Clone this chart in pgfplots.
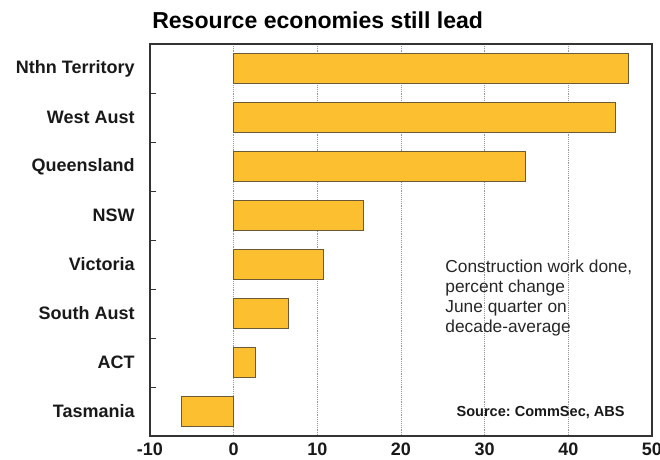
\documentclass[border=0pt]{standalone}
\usepackage{pgfplots}
\pgfplotsset{compat=1.18}
\usepackage{fontspec}
\setmainfont{Liberation Sans}
\frenchspacing
\definecolor{barfill}{HTML}{FBBF2F}
\definecolor{baredge}{HTML}{6B5A35}
\begin{document}
\frenchspacing
\begin{tikzpicture}[x=0.75pt,y=0.75pt]
\path[use as bounding box] (-150,-24) rectangle (510,436);
\begin{axis}[
  at={(0,0)}, anchor=south west,
  scale only axis,
  width=376.5pt, height=294pt,
  xbar, bar width=22pt,
  xmin=-10, xmax=50,
  ymin=-0.5, ymax=7.5, y dir=reverse,
  xtick={-10,0,10,20,30,40,50},
  xticklabels={-10,0,10,20,30,40,50},
  major x tick style={draw=none},
  xmajorgrids, grid style={densely dotted, black!40, line width=0.6pt},
  ytick={0,1,2,3,4,5,6,7},
  yticklabels={Nthn Territory,West Aust,Queensland,NSW,Victoria,South Aust,ACT,Tasmania},
  major y tick style={draw=none},
  minor ytick={0.5,1.5,2.5,3.5,4.5,5.5,6.5},
  minor tick length=4.5pt,
  minor y tick style={black!80, line width=0.6pt},
  ytick pos=left, tick align=inside,
  axis line style={black!80, line width=0.8pt},
  tick label style={font=\fontsize{13.5}{15}\selectfont\bfseries, text=black!90},
  yticklabel style={xshift=-8pt},
  xticklabel style={yshift=-2pt},
  /pgf/number format/assume math mode=true,
  clip=false,
]
\addplot[fill=barfill, draw=baredge, line width=0.6pt] coordinates {
  (47.2,0) (45.6,1) (34.9,2) (15.5,3) (10.7,4) (6.6,5) (2.6,6) (-6.2,7)
};
\node[anchor=north west, align=left, font=\fontsize{13}{15}\selectfont, text=black!85, inner sep=0pt]
  at (rel axis cs:0.588,0.45) {Construction work done,\\percent change\\June quarter on\\decade-average};
\node[anchor=east, font=\fontsize{10.9}{12}\selectfont\bfseries, text=black!90, inner sep=0pt]
  at (rel axis cs:0.946,0.061) {Source: CommSec, ABS};
\end{axis}
\node[anchor=west, font=\fontsize{17.3}{20}\selectfont\bfseries, inner sep=0pt] at (2,416) {Resource economies still lead};
\end{tikzpicture}
\end{document}
